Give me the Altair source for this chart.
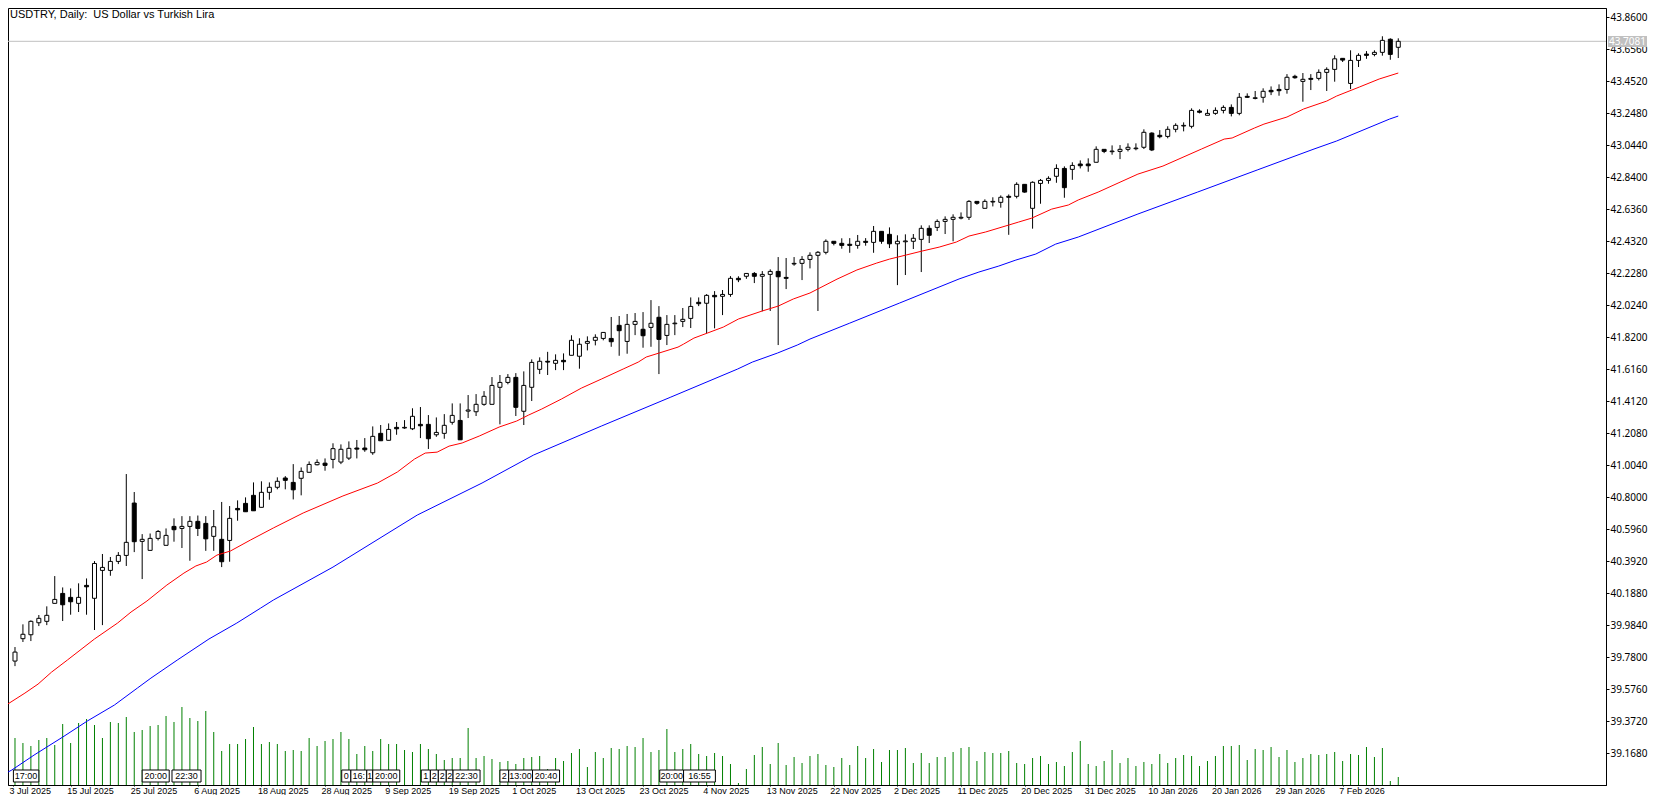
import altair as alt
import pandas as pd

# price series, one entry per daily bar
opens = [39.778,39.920,39.945,40.021,40.030,40.144,40.207,40.182,40.144,40.258,
40.176,40.353,40.353,40.410,40.448,40.780,40.537,40.480,40.556,40.512,
40.632,40.619,40.632,40.664,40.651,40.569,40.550,40.543,40.746,40.778,
40.829,40.753,40.848,40.880,40.939,40.911,40.937,40.975,41.023,41.033,
41.057,41.040,41.065,41.129,41.129,41.099,41.222,41.178,41.260,41.256,
41.251,41.279,41.279,41.213,41.222,41.292,41.304,41.363,41.359,41.406,
41.406,41.514,41.545,41.577,41.362,41.514,41.628,41.679,41.666,41.685,
41.717,41.711,41.793,41.812,41.824,41.824,41.907,41.805,41.913,41.882,
41.894,41.958,41.843,41.917,41.932,41.951,42.053,42.047,42.097,42.091,
42.103,42.205,42.218,42.236,42.218,42.230,42.249,42.211,42.296,42.300,
42.325,42.351,42.370,42.440,42.427,42.421,42.414,42.440,42.433,42.503,
42.484,42.424,42.437,42.440,42.452,42.522,42.528,42.566,42.579,42.587,
42.592,42.693,42.649,42.689,42.687,42.725,42.725,42.801,42.649,42.807,
42.826,42.852,42.902,42.896,42.930,42.930,42.941,43.023,43.008,43.010,
43.023,43.027,43.036,43.126,43.112,43.105,43.150,43.171,43.169,43.266,
43.239,43.251,43.270,43.289,43.251,43.359,43.346,43.353,43.397,43.403,
43.403,43.486,43.454,43.473,43.473,43.511,43.530,43.600,43.441,43.587,
43.627,43.625,43.638,43.721,43.670]
highs = [39.867,40.011,40.036,40.070,40.125,40.317,40.245,40.239,40.271,40.302,
40.412,40.457,40.438,40.469,40.964,40.850,40.583,40.587,40.609,40.619,
40.683,40.697,40.697,40.701,40.697,40.736,40.787,40.761,40.797,40.816,
40.911,40.918,40.911,40.943,40.951,41.027,41.006,41.044,41.057,41.063,
41.159,41.152,41.171,41.180,41.192,41.266,41.275,41.285,41.294,41.306,
41.381,41.389,41.338,41.323,41.344,41.412,41.412,41.465,41.471,41.490,
41.579,41.592,41.598,41.604,41.615,41.691,41.704,41.739,41.723,41.729,
41.844,41.825,41.837,41.850,41.862,41.960,41.966,41.979,41.985,41.991,
42.067,42.029,41.972,41.972,42.017,42.084,42.084,42.105,42.124,42.131,
42.219,42.218,42.236,42.245,42.251,42.262,42.340,42.334,42.340,42.346,
42.370,42.378,42.452,42.440,42.459,42.460,42.480,42.460,42.537,42.503,
42.528,42.478,42.484,42.486,42.541,42.541,42.579,42.598,42.611,42.623,
42.701,42.693,42.706,42.719,42.731,42.737,42.814,42.801,42.820,42.835,
42.852,42.928,42.915,42.941,42.953,42.966,43.042,43.023,43.048,43.050,
43.061,43.061,43.150,43.131,43.145,43.169,43.188,43.194,43.283,43.277,
43.277,43.289,43.302,43.308,43.380,43.378,43.393,43.410,43.422,43.435,
43.500,43.496,43.507,43.500,43.530,43.543,43.619,43.600,43.651,43.632,
43.646,43.651,43.740,43.727,43.727]
lows = [39.746,39.899,39.905,40.000,40.006,40.144,40.032,40.072,40.089,40.072,
39.975,40.006,40.319,40.393,40.381,40.469,40.298,40.480,40.543,40.512,
40.535,40.495,40.414,40.571,40.477,40.477,40.374,40.408,40.668,40.725,
40.731,40.753,40.801,40.867,40.867,40.803,40.829,40.975,41.019,40.985,
41.000,41.027,41.053,41.063,41.105,41.086,41.175,41.178,41.213,41.251,
41.243,41.192,41.123,41.200,41.188,41.277,41.181,41.319,41.332,41.397,
41.406,41.279,41.533,41.332,41.275,41.427,41.598,41.592,41.623,41.623,
41.717,41.632,41.748,41.780,41.812,41.771,41.714,41.727,41.845,41.765,
41.771,41.598,41.782,41.845,41.896,41.890,42.029,41.856,41.888,41.972,
42.088,42.181,42.202,42.175,41.996,41.998,41.782,42.137,42.285,42.194,
42.268,41.998,42.357,42.414,42.393,42.367,42.393,42.412,42.367,42.424,
42.397,42.162,42.226,42.391,42.245,42.429,42.505,42.486,42.440,42.579,
42.575,42.672,42.649,42.661,42.653,42.481,42.712,42.748,42.520,42.678,
42.805,42.811,42.716,42.830,42.902,42.881,42.941,42.999,42.989,42.961,
43.010,43.017,43.025,43.012,43.093,43.093,43.131,43.137,43.156,43.251,
43.239,43.242,43.251,43.232,43.239,43.350,43.340,43.319,43.367,43.363,
43.376,43.471,43.325,43.399,43.460,43.393,43.452,43.577,43.405,43.545,
43.597,43.613,43.617,43.591,43.602]
closes = [39.835,39.948,40.030,40.049,40.068,40.169,40.135,40.154,40.182,40.249,
40.397,40.372,40.410,40.448,40.531,40.535,40.550,40.556,40.600,40.575,
40.611,40.632,40.664,40.619,40.553,40.630,40.408,40.683,40.737,40.725,
40.731,40.848,40.880,40.918,40.924,40.864,40.981,41.025,41.038,41.019,
41.125,41.121,41.127,41.122,41.118,41.203,41.175,41.247,41.251,41.260,
41.330,41.270,41.188,41.228,41.273,41.336,41.181,41.370,41.406,41.457,
41.526,41.545,41.577,41.387,41.526,41.672,41.679,41.674,41.685,41.676,
41.812,41.787,41.805,41.831,41.862,41.803,41.873,41.913,41.932,41.841,
41.920,41.818,41.913,41.921,41.945,42.027,42.044,42.097,42.088,42.103,
42.205,42.196,42.236,42.218,42.230,42.249,42.215,42.205,42.300,42.325,
42.351,42.370,42.440,42.427,42.414,42.414,42.440,42.433,42.503,42.440,
42.424,42.440,42.442,42.459,42.522,42.478,42.566,42.579,42.592,42.592,
42.693,42.681,42.693,42.693,42.719,42.719,42.801,42.752,42.814,42.826,
42.839,42.902,42.780,42.921,42.919,42.919,43.023,43.010,43.012,43.023,
43.036,43.031,43.131,43.019,43.103,43.150,43.175,43.175,43.270,43.258,
43.251,43.270,43.289,43.251,43.353,43.353,43.350,43.391,43.388,43.395,
43.480,43.477,43.467,43.467,43.511,43.530,43.597,43.589,43.587,43.619,
43.619,43.638,43.714,43.625,43.708]
volumes = [47,42,39,45,47,40,61,42,62,66,60,47,63,62,68,53,55,59,60,69,
63,78,67,64,74,53,34,41,41,46,58,41,43,41,34,35,34,47,39,44,
46,53,46,31,39,34,46,41,41,35,33,41,36,31,25,27,27,57,27,29,
26,23,24,21,27,28,29,16,27,24,32,36,18,33,27,37,36,39,38,47,
33,35,56,33,36,41,31,29,32,29,21,2,16,30,38,21,42,20,28,22,
29,31,20,18,27,20,39,27,36,23,35,35,37,22,32,22,28,28,33,37,
38,24,33,32,32,34,22,21,27,29,21,23,19,33,44,21,19,24,35,22,
27,19,23,21,31,22,27,30,29,19,24,29,39,39,40,25,36,35,38,28,
35,23,27,31,30,31,33,24,31,30,38,28,37,4,8]

red_bar = [-0.9,1.25,2.9,4.6,6.6,10,12.9,14.6,16.6,19.1,21.25,22.75,24.1,25.4,27.1,29.6,32.5,36.25,41.25,45.6,48.1,
50.25,51.6,53.1,54.6,56.25,58.4,60.9,63.1,64.6,66.25,68.75,71.25,73.75,76.5,78.4,79.4,81,83.4,84.1,85.4,87.1,89.1,91,
94,96,97.9,100,103.4,105.9,108.4,110,112.1,114.1,116.25,118.4,120,122.1,125,126.25,127.9,130.4,132.5,133.75,136.25,
138.75,141.25,144.4,149.25,152.1,153.1,155.9,157.1,160,162.1,165,166.25,169.1,171.6,174]
red_val = [39.506,39.575,39.632,39.708,39.785,39.918,40.019,40.089,40.159,40.260,40.336,40.381,40.406,40.450,40.476,40.545,40.622,40.717,40.825,40.907,40.977,
41.059,41.097,41.103,41.141,41.161,41.205,41.262,41.300,41.338,41.376,41.440,41.509,41.566,41.630,41.674,41.706,41.731,41.769,41.788,41.826,41.858,41.896,41.947,
41.998,42.029,42.074,42.112,42.200,42.258,42.302,42.327,42.353,42.378,42.403,42.435,42.473,42.499,42.543,42.562,42.587,42.644,42.670,42.702,42.752,
42.809,42.866,42.917,43.025,43.088,43.095,43.158,43.183,43.228,43.279,43.329,43.361,43.418,43.469,43.507]
blue_bar = [-0.9,-0.4,2.4,6,9.1,12.5,15.4,17.1,20.4,24.4,27.9,30.9,32.5,40,50.6,58.75,65.25,73.75,82.5,90.9,92.75,95.9,98.4,100,
105,111.25,118.75,121.25,123.75,125.9,128.4,130.9,133.75,141.25,148.75,156.25,163.4,166.25,172.9,174]
blue_val = [39.074,39.087,39.182,39.296,39.398,39.499,39.607,39.670,39.784,39.918,40.019,40.114,40.165,40.374,40.704,40.907,41.085,41.268,41.452,41.630,41.674,41.731,41.782,41.820,
41.921,42.048,42.201,42.245,42.283,42.321,42.359,42.422,42.467,42.613,42.752,42.892,43.025,43.076,43.215,43.234]

price_ticks = [43.86,43.656,43.452,43.248,43.044,42.84,42.636,42.432,42.228,42.024,41.82,41.616,41.412,41.208,41.004,
40.8,40.596,40.392,40.188,39.984,39.78,39.576,39.372,39.168]
date_bars = [-0.25,7,15,23,31,39,47,55,63,71,79,87,95,103,111,119,127,135,143,151,159,167]
date_labels = ["3 Jul 2025","15 Jul 2025","25 Jul 2025","6 Aug 2025","18 Aug 2025","28 Aug 2025","9 Sep 2025",
"19 Sep 2025","1 Oct 2025","13 Oct 2025","23 Oct 2025","4 Nov 2025","13 Nov 2025","22 Nov 2025","2 Dec 2025",
"11 Dec 2025","20 Dec 2025","31 Dec 2025","10 Jan 2026","20 Jan 2026","29 Jan 2026","7 Feb 2026"]
flag_text = ["17:00","20:00","22:30","0","16:","1","20:00","1","2","2","2","22:30","2","13:00","20:40","20:00","16:55"]
flag_start = [-0.2,16,19.75,41.1,42.25,44.25,45,51.1,52.25,53.25,54.25,55.1,61,62.1,65.1,81.1,84.1]
flag_end = [3,19.4,23.4,42.25,44.25,45,48.4,52.25,53.25,54.25,55.1,58.5,62.1,65.1,68.5,84.1,88.1]
last_price = 43.7081
FONT = "Noto Sans"
SMALL_FONT = "Liberation Sans"

# the price readings above were taken with a slightly coarse axis calibration
CAL = 157.7 / 156.8
def cal(values):
    return [last_price + (v - last_price) * CAL for v in values]

bars = pd.DataFrame({"bar": range(len(opens)), "open": cal(opens), "high": cal(highs), "low": cal(lows),
                     "close": cal(closes), "volume": volumes, "base": 0})
red = pd.DataFrame({"bar": red_bar, "ma": cal(red_val)})
blue = pd.DataFrame({"bar": blue_bar, "ma": cal(blue_val)})
flags = pd.DataFrame({"text": flag_text, "start": flag_start, "end": flag_end})
flags["mid"] = (flags["start"] + flags["end"]) / 2
last = pd.DataFrame({"price": [last_price], "label": ["43.7081"]})

xs = alt.Scale(domain=[-0.25, 199.5], nice=False, zero=False)
ys = alt.Scale(domain=[38.9651, 43.9205], nice=False, zero=False)
vs = alt.Scale(domain=[0, 777], nice=False, zero=False)

label_map = "{" + ",".join(f"'{b}':'{t}'" for b, t in zip(date_bars, date_labels)) + "}"
x_main = alt.X("bar:Q", scale=xs, axis=alt.Axis(
    values=date_bars, labelExpr=f"{label_map}[datum.value]", title=None, grid=False, tickSize=1,
    tickColor="black", domainColor="black", labelAlign="left", labelBaseline="top", labelPadding=0,
    labelOffset=-4, labelFont=SMALL_FONT, labelFontSize=9, labelColor="black", labelOverlap=False,
    labelFlush=False, labelBound=False))

vol = alt.Chart(bars).mark_rule(color="#008000", strokeWidth=1, clip=True).encode(
    x=x_main, y=alt.Y("volume:Q", scale=vs, axis=None), y2="base:Q")

price_line = alt.Chart(last).mark_rule(color="#c0c0c0", strokeWidth=1).encode(
    y=alt.Y("price:Q", scale=ys, axis=alt.Axis(
        orient="right", values=price_ticks, format=".4f", title=None, grid=False, tickSize=3,
        tickColor="black", domainColor="black", labelFont=FONT, labelFontSize=10, labelColor="black",
        labelPadding=1, labelOverlap=False, labelBound=False, labelFlush=False)))

wick = alt.Chart(bars).mark_rule(color="black", strokeWidth=1, clip=True).encode(
    x=x_main, y=alt.Y("high:Q", scale=ys, axis=None), y2="low:Q")
body = alt.Chart(bars).mark_bar(size=4, stroke="black", strokeWidth=1, clip=True).encode(
    x=x_main, y=alt.Y("open:Q", scale=ys, axis=None), y2="close:Q",
    fill=alt.condition("datum.close >= datum.open", alt.value("white"), alt.value("black")))

red_line = alt.Chart(red).mark_line(color="#ff0000", strokeWidth=1, clip=True).encode(
    x=x_main, y=alt.Y("ma:Q", scale=ys, axis=None))
blue_line = alt.Chart(blue).mark_line(color="#0000ff", strokeWidth=1, clip=True).encode(
    x=x_main, y=alt.Y("ma:Q", scale=ys, axis=None))

flag_box = alt.Chart(flags).transform_calculate(bar="datum.start").mark_rect(
    fill="white", stroke="black", strokeWidth=1).encode(
    x=x_main, x2="end:Q", y=alt.value(762), y2=alt.value(774))
flag_label = alt.Chart(flags).transform_calculate(bar="datum.mid").mark_text(
    font=SMALL_FONT, fontSize=9, color="black").encode(
    x=x_main, y=alt.value(768), text="text:N")

last_box = alt.Chart(last).mark_rect(fill="#c0c0c0").encode(
    x=alt.value(1600), x2=alt.value(1639), y=alt.value(28), y2=alt.value(39))
last_text = alt.Chart(last).mark_text(font=FONT, fontSize=10, color="white", align="left").encode(
    x=alt.value(1601), y=alt.value(33.5), text="label:N")
title = alt.Chart(pd.DataFrame({"t": ["USDTRY, Daily:\u00a0 US Dollar vs Turkish Lira"]})).mark_text(
    font=SMALL_FONT, fontSize=11, color="black", align="left", baseline="middle").encode(
    x=alt.value(2), y=alt.value(7), text="t:N")

chart = alt.layer(vol, price_line, wick, body, red_line, blue_line, flag_box, flag_label,
                  last_box, last_text, title).resolve_scale(y="independent").properties(
    width=1598, height=777,
    autosize=alt.AutoSizeParams(type="none"),
    padding={"left": 0, "top": 0, "right": 42, "bottom": 10},
    background="white",
).configure_view(stroke="black", strokeWidth=1)

chart.save("out.html", embed_options={"renderer": "svg", "actions": False})
